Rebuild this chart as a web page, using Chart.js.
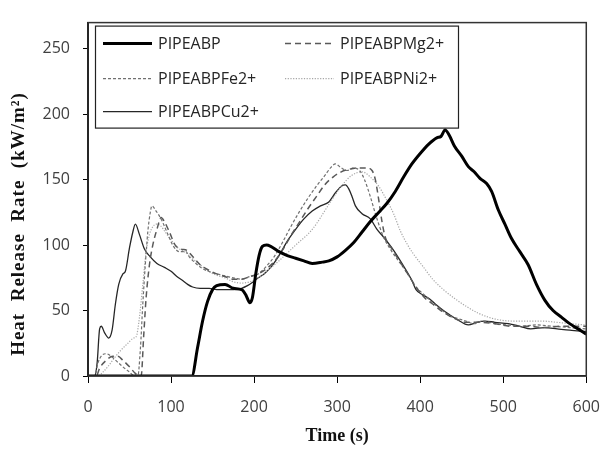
<!DOCTYPE html>
<html>
<head>
<meta charset="utf-8">
<script src="https://cdn.jsdelivr.net/npm/chart.js@4.4.1/dist/chart.umd.min.js"></script>
<style>
  html, body { margin: 0; padding: 0; background: #fff; }
  canvas { display: block; }
</style>
</head>
<body>
<canvas id="c" width="615" height="451"></canvas>
<script>
// ---- Data (time in s, heat release rate in kW/m²) ----
const seriesNames = ['PIPEABP', 'PIPEABPMg2+', 'PIPEABPFe2+', 'PIPEABPNi2+', 'PIPEABPCu2+'];
const xTicks = [0, 100, 200, 300, 400, 500, 600];
const yTicks = [0, 50, 100, 150, 200, 250];
const xTitle = 'Time (s)';
const yTitle = 'Heat  Release  Rate  (kW/m²)';

const pipeabpT = [0, 60, 120, 125, 132, 138, 144, 150, 155, 165, 175, 185, 190, 195, 198, 202, 206, 210, 215, 220, 230, 240, 250, 260, 270, 282, 290, 300, 310, 320, 330, 340, 350, 360, 370, 380, 390, 400, 410, 420, 425, 430, 435, 441, 450, 458, 465, 472, 480, 486, 494, 502, 510, 520, 530, 540, 550, 560, 570, 580, 590, 600];
const pipeabpV = [0, 0, 0, 0, 22, 42, 57, 66, 69, 70, 67, 66, 62, 56, 60, 78, 92, 99, 100, 99, 95, 92, 90, 88, 86, 87, 88, 91, 96, 102, 110, 118, 125, 132, 141, 152, 162, 170, 177, 182, 183, 188, 184, 176, 168, 160, 156, 151, 147, 141, 127, 116, 105, 95, 85, 70, 58, 50, 45, 40, 36, 32];

const mgT = [0, 10, 14, 22, 30, 36, 42, 50, 57, 62, 64, 67, 70, 74, 78, 83, 88, 92, 98, 105, 112, 119, 125, 135, 145, 155, 165, 175, 185, 195, 205, 215, 225, 235, 245, 255, 265, 275, 285, 295, 305, 315, 325, 335, 342, 346, 350, 354, 358, 365, 375, 385, 395, 405, 415, 425, 435, 445, 455, 470, 490, 510, 530, 550, 570, 600];
const mgV = [0, 0, 6, 12, 15, 15, 12, 7, 2, 0, 0, 30, 60, 85, 100, 112, 121, 118, 110, 100, 97, 96, 92, 85, 81, 78, 76, 74, 74, 76, 78, 82, 88, 97, 108, 118, 128, 137, 146, 152, 156, 158, 159, 159, 157, 150, 135, 118, 106, 98, 88, 78, 68, 60, 55, 50, 46, 43, 41, 41, 40, 38, 38, 37, 38, 38];

const feT = [0, 8, 12, 17, 22, 28, 35, 42, 50, 56, 60, 63, 66, 69, 72, 75, 77, 82, 88, 95, 103, 110, 118, 122, 130, 138, 150, 162, 175, 185, 195, 205, 215, 225, 235, 245, 255, 265, 275, 285, 292, 298, 305, 312, 320, 327, 333, 340, 347, 356, 365, 375, 385, 395, 405, 415, 425, 435, 445, 455, 465, 475, 490, 505, 520, 540, 560, 580, 600];
const feV = [0, 0, 10, 16, 17, 15, 11, 7, 3, 0, 0, 20, 55, 85, 110, 125, 130, 126, 120, 110, 99, 95, 95, 91, 86, 82, 79, 77, 75, 74, 76, 78, 84, 92, 103, 115, 126, 136, 145, 153, 159, 162, 159, 157, 159, 157, 150, 137, 122, 106, 96, 87, 78, 68, 62, 56, 51, 46, 44, 42, 40, 42, 40, 39, 38, 39, 38, 37, 36];

const niT = [0, 12, 18, 25, 32, 40, 48, 55, 58, 62, 66, 70, 74, 78, 82, 87, 93, 100, 108, 116, 125, 135, 145, 155, 165, 175, 185, 195, 205, 215, 230, 250, 270, 293, 305, 317, 330, 340, 350, 360, 368, 376, 385, 391, 403, 415, 428, 442, 456, 470, 482, 494, 510, 530, 545, 565, 580, 600];
const niV = [0, 0, 3, 8, 14, 20, 25, 29, 30, 45, 70, 95, 108, 114, 116, 115, 110, 104, 98, 95, 90, 85, 80, 77, 75, 72, 71, 72, 75, 80, 88, 100, 112, 134, 145, 153, 156, 152, 145, 134, 124, 111, 100, 94, 84, 74, 66, 59, 53, 48, 45, 43, 42, 42, 42, 41, 40, 39];

const cuT = [0, 8, 11, 14, 16, 20, 25, 29, 33, 37, 42, 45, 50, 54, 57, 62, 68, 75, 83, 92, 100, 107, 114, 120, 126, 135, 146, 155, 165, 175, 185, 192, 197, 205, 212, 220, 230, 240, 250, 260, 270, 280, 290, 298, 305, 310, 314, 318, 322, 330, 340, 348, 356, 368, 380, 390, 395, 403, 411, 420, 428, 435, 445, 458, 468, 478, 490, 506, 520, 533, 550, 565, 580, 600];
const cuV = [0, 0, 10, 36, 38, 33, 29, 35, 55, 70, 78, 80, 98, 110, 116, 108, 97, 91, 86, 83, 80, 76, 73, 70, 68, 67, 67, 66, 66, 66, 67, 69, 71, 75, 78, 83, 92, 103, 112, 120, 126, 130, 133, 140, 145, 146, 143, 137, 130, 124, 120, 112, 106, 96, 84, 73, 66, 62, 59, 54, 50, 47, 43, 39, 41, 42, 41, 40, 38, 36, 37, 36, 35, 34];

function pts(ts, vs) { return ts.map((t, i) => ({ x: t, y: vs[i] })); }

// ---- Styles ----
const styles = [
  { color: '#000000', width: 3,   dash: [] },
  { color: '#595959', width: 1.5, dash: [6, 4] },
  { color: '#707070', width: 1.2, dash: [3, 2] },
  { color: '#a6a6a6', width: 1.2, dash: [1.2, 1.5] },
  { color: '#262626', width: 1.3, dash: [] }
];
const seriesData = [pts(pipeabpT, pipeabpV), pts(mgT, mgV), pts(feT, feV), pts(niT, niV), pts(cuT, cuV)];

const datasets = seriesNames.map((name, i) => ({
  label: name,
  data: seriesData[i],
  borderColor: styles[i].color,
  borderWidth: styles[i].width,
  borderDash: styles[i].dash,
  pointRadius: 0,
  fill: false,
  tension: 0.25,
  cubicInterpolationMode: 'monotone'
}));

// frame + in-plot legend + rotated y title
const framePlugin = {
  id: 'frameLegend',
  afterDraw(chart) {
    const { ctx, chartArea: a } = chart;
    ctx.save();
    ctx.strokeStyle = '#333';
    ctx.lineWidth = 1.5;
    ctx.strokeRect(a.left, a.top, a.right - a.left, a.bottom - a.top);

    // legend box
    const bx = a.left + 7, by = a.top + 3, bw = 363, bh = 102;
    ctx.fillStyle = '#fff';
    ctx.fillRect(bx, by, bw, bh);
    ctx.strokeStyle = '#222';
    ctx.lineWidth = 1.2;
    ctx.strokeRect(bx + 0.5, by + 0.5, bw, bh);

    const cols = [bx + 8, bx + 190];
    const rows = [by + 18, by + 53, by + 86];
    ctx.font = '16px "Open Sans", "DejaVu Sans", sans-serif';
    ctx.textBaseline = 'middle';
    ctx.textAlign = 'left';
    chart.data.datasets.forEach((ds, i) => {
      const c = cols[i % 2], r = rows[Math.floor(i / 2)];
      ctx.beginPath();
      ctx.setLineDash(ds.borderDash || []);
      ctx.strokeStyle = ds.borderColor;
      ctx.lineWidth = ds.borderWidth;
      ctx.moveTo(c, r);
      ctx.lineTo(c + 49, r);
      ctx.stroke();
      ctx.setLineDash([]);
      ctx.fillStyle = '#262626';
      ctx.fillText(ds.label, c + 55, r + 1);
    });
    ctx.restore();

    // y axis title
    ctx.save();
    ctx.translate(19, 224);
    ctx.rotate(-Math.PI / 2);
    ctx.font = 'bold 19px "Liberation Serif", "Times New Roman", serif';
    try { ctx.letterSpacing = '1px'; } catch (e) {}
    ctx.fillStyle = '#111';
    ctx.textAlign = 'center';
    ctx.textBaseline = 'middle';
    ctx.fillText(yTitle, 0, 0);
    ctx.restore();
  }
};

new Chart(document.getElementById('c'), {
  type: 'line',
  data: { datasets },
  options: {
    responsive: false,
    animation: false,
    devicePixelRatio: 1,
    layout: { padding: { top: 12, right: 18, bottom: 0, left: 0 } },
    plugins: { legend: { display: false }, tooltip: { enabled: false } },
    scales: {
      x: {
        type: 'linear',
        min: 0, max: 600,
        afterBuildTicks: s => { s.ticks = xTicks.map(v => ({ value: v })); },
        afterFit: s => { s.height = 75; },
        ticks: { color: '#404040', font: { family: '"Open Sans", sans-serif', size: 16 }, padding: 15, maxRotation: 0 },
        grid: { drawOnChartArea: false, drawTicks: true, tickLength: 7, color: '#000', lineWidth: 1 },
        border: { display: true, color: '#000', width: 1.5 },
        title: { display: true, text: xTitle, color: '#111',
                 font: { family: '"Liberation Serif", "Times New Roman", serif', size: 18, weight: 'bold' },
                 padding: { top: 0, bottom: 4 } }
      },
      y: {
        type: 'linear',
        min: 0, max: 270,
        afterBuildTicks: s => { s.ticks = yTicks.map(v => ({ value: v })); },
        afterFit: s => { s.width = 88; },
        ticks: { color: '#404040', font: { family: '"Open Sans", sans-serif', size: 16 }, padding: 13 },
        grid: { drawOnChartArea: false, drawTicks: true, tickLength: 5, color: '#000', lineWidth: 1 },
        border: { display: true, color: '#000', width: 2 },
        title: { display: false }
      }
    }
  },
  plugins: [framePlugin]
});
</script>
</body>
</html>
